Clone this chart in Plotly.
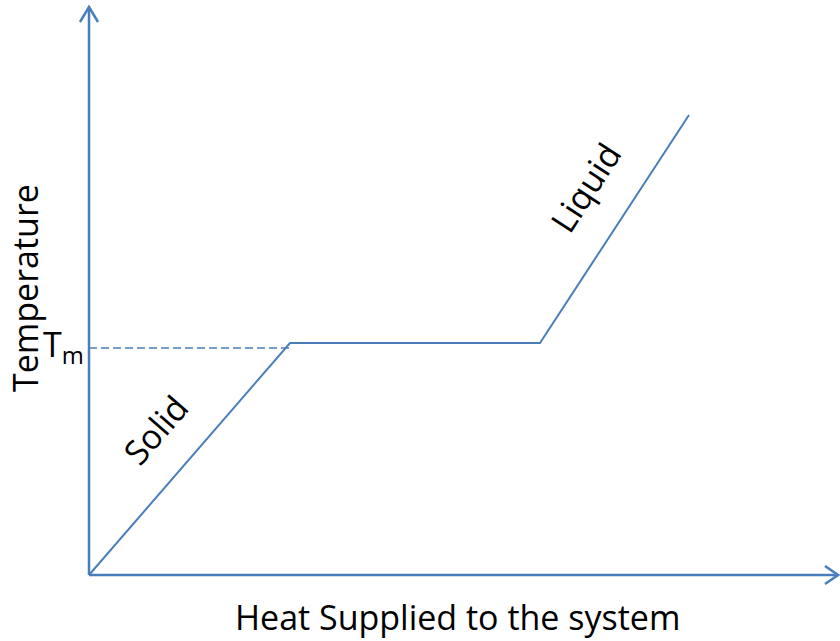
import plotly.graph_objects as go

# Data (arbitrary units)
heat = [0.0, 2.01, 4.51, 6.0]
temperature = [0.0, 2.32, 2.32, 4.60]
t_melt = 2.27
phase_labels = ["Solid", "Liquid"]

BLUE = "#4A7EBB"
FONT = "Open Sans"
FS = 34

fig = go.Figure()

# heating curve
fig.add_trace(go.Scatter(x=heat, y=temperature, mode="lines",
                         line=dict(color=BLUE, width=2), hoverinfo="skip"))
# dashed Tm line
fig.add_trace(go.Scatter(x=[0, heat[1]], y=[t_melt, t_melt], mode="lines",
                         line=dict(color=BLUE, width=1.6, dash="8px,4px"), hoverinfo="skip"))

x_max, y_max = 7.49, 5.68
# axes with open arrowheads
fig.add_shape(type="line", x0=0, y0=0, x1=x_max, y1=0, line=dict(color=BLUE, width=2.5))
fig.add_shape(type="line", x0=0, y0=0, x1=0, y1=y_max, line=dict(color=BLUE, width=2.5))
fig.add_shape(type="path", path=f"M {x_max-0.13},0.09 L {x_max},0 L {x_max-0.13},-0.09",
              line=dict(color=BLUE, width=2.5))
fig.add_shape(type="path", path=f"M -0.09,{y_max-0.15} L 0,{y_max} L 0.09,{y_max-0.15}",
              line=dict(color=BLUE, width=2.5))

fig.add_annotation(x=-0.03, y=t_melt + 0.02, text="T<sub>m</sub>", showarrow=False,
                   xanchor="right", yanchor="middle", font=dict(family=FONT, size=FS, color="black"))
fig.add_annotation(x=0.66, y=1.45, text=phase_labels[0], showarrow=False, textangle=-49,
                   font=dict(family=FONT, size=FS, color="black"))
fig.add_annotation(x=4.96, y=3.87, text=phase_labels[1], showarrow=False, textangle=-57,
                   font=dict(family=FONT, size=FS, color="black"))
fig.add_annotation(x=3.68, y=-0.42, text="Heat Supplied to the system", showarrow=False,
                   font=dict(family=FONT, size=FS, color="black"))
fig.add_annotation(x=-0.64, y=2.87, text="Temperature", showarrow=False, textangle=-90,
                   font=dict(family=FONT, size=FS, color="black"))

fig.update_layout(
    width=840, height=641, margin=dict(l=0, r=0, t=0, b=0),
    paper_bgcolor="white", plot_bgcolor="white", showlegend=False,
    xaxis=dict(range=[-0.89, 7.51], visible=False, fixedrange=True),
    yaxis=dict(range=[-0.66, 5.75], visible=False, fixedrange=True),
)
fig.write_html("out.html", config={"displayModeBar": False},
               post_script="document.body.style.margin='0';document.body.style.overflow='hidden';")
